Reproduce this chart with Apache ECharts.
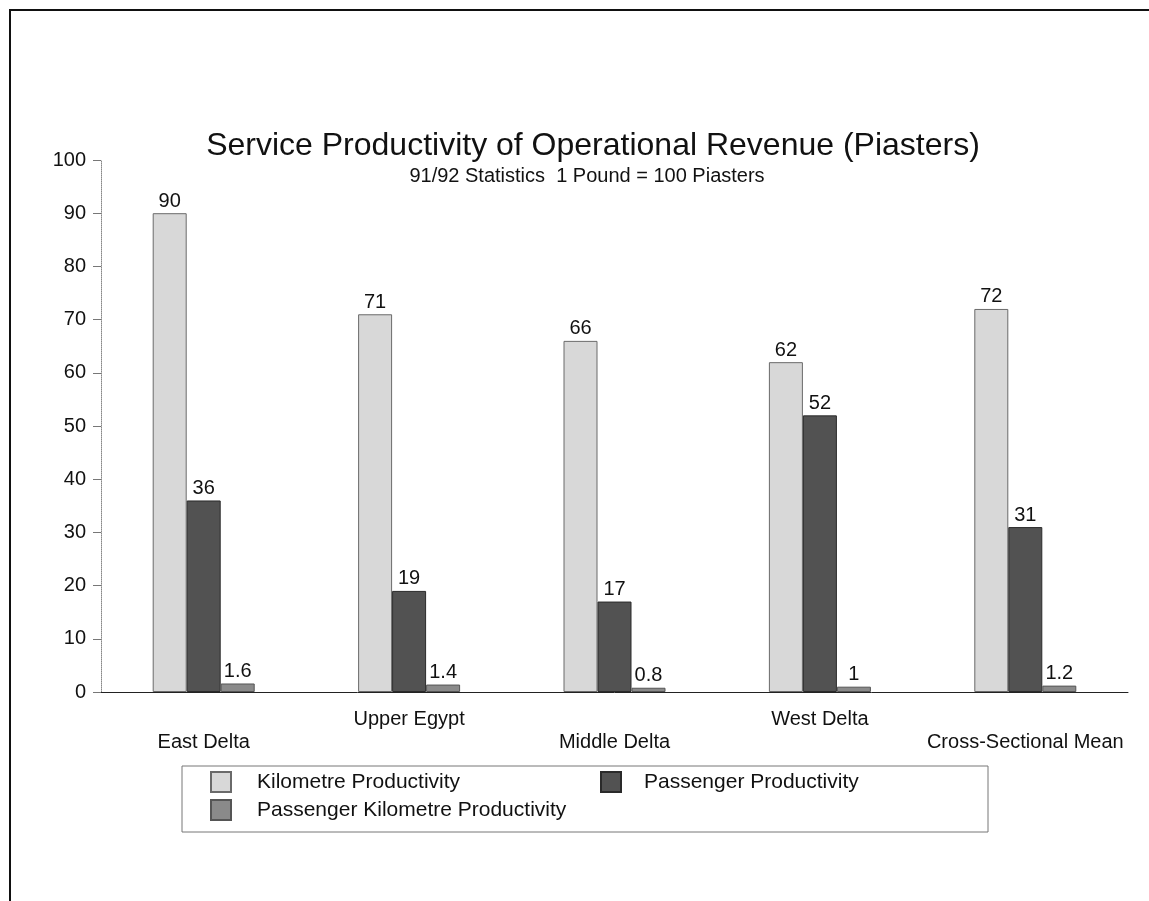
<!DOCTYPE html>
<html>
<head>
<meta charset="utf-8">
<script src="https://cdn.jsdelivr.net/npm/echarts@6/dist/echarts.min.js"></script>
<style>
  html, body { margin: 0; padding: 0; background: #fff; }
  #chart { width: 1149px; height: 901px; }
</style>
</head>
<body>
<div id="chart"></div>
<script>
// Regions served and the three productivity measures (piasters)
const regions = ['East Delta', 'Upper Egypt', 'Middle Delta', 'West Delta', 'Cross-Sectional Mean'];
const kilometreProductivity = [90, 71, 66, 62, 72];
const passengerProductivity = [36, 19, 17, 52, 31];
const passengerKmProductivity = [1.6, 1.4, 0.8, 1, 1.2];
const yTicks = { min: 0, max: 100, interval: 10 };

const FONT = '"Liberation Sans", Arial, Helvetica, sans-serif';

const chart = echarts.init(document.getElementById('chart'), null, { renderer: 'canvas' });

function barSeries(name, data, fill, border) {
  return {
    name: name,
    type: 'bar',
    data: data,
    barWidth: 34,
    barGap: '0%',
    itemStyle: { color: fill, borderColor: border, borderWidth: 1 },
    label: {
      show: true,
      position: 'top',
      distance: 2,
      color: '#111',
      fontFamily: FONT,
      fontSize: 20
    }
  };
}

function legendAt(name, left, top, padLeft) {
  return {
    data: [name],
    left: left,
    top: top,
    padding: 0,
    icon: 'rect',
    itemWidth: 20,
    itemHeight: 20,
    itemGap: 0,
    textStyle: { color: '#111', fontFamily: FONT, fontSize: 21, padding: [0, 0, 0, padLeft] }
  };
}

chart.setOption({
  animation: false,
  backgroundColor: '#fff',
  title: [
    {
      text: 'Service Productivity of Operational Revenue (Piasters)',
      left: 588,
      textAlign: 'center',
      top: 125,
      textStyle: { color: '#111', fontFamily: FONT, fontSize: 32, fontWeight: 'normal' }
    },
    {
      text: '91/92 Statistics  1 Pound = 100 Piasters',
      left: 582,
      textAlign: 'center',
      top: 161,
      textStyle: { color: '#111', fontFamily: FONT, fontSize: 20, fontWeight: 'normal' }
    }
  ],
  grid: { left: 101, right: 21, top: 160, bottom: 209, containLabel: false },
  legend: [
    legendAt('Kilometre Productivity', 210, 771, 21),
    legendAt('Passenger Productivity', 600, 771, 18),
    legendAt('Passenger Kilometre Productivity', 210, 799, 21)
  ],
  xAxis: {
    type: 'category',
    data: regions,
    axisLine: { lineStyle: { color: '#222', width: 1 } },
    axisTick: { alignWithLabel: true, length: 12, lineStyle: { color: '#999', type: 'dotted' } },
    axisLabel: {
      interval: 0,
      margin: 17,
      color: '#111',
      fontFamily: FONT,
      fontSize: 20,
      formatter: function (v, i) { return i % 2 === 0 ? '{lo|' + v + '}' : '{hi|' + v + '}'; },
      rich: {
        hi: { fontFamily: FONT, fontSize: 20, color: '#111', padding: [0, 0, 0, 0] },
        lo: { fontFamily: FONT, fontSize: 20, color: '#111', padding: [23, 0, 0, 0] }
      }
    }
  },
  yAxis: {
    type: 'value',
    min: yTicks.min,
    max: yTicks.max,
    interval: yTicks.interval,
    axisLine: { show: true, lineStyle: { color: '#888', type: 'dotted' } },
    axisTick: { show: true, length: 8, lineStyle: { color: '#777' } },
    splitLine: { show: false },
    axisLabel: { margin: 15, color: '#111', fontFamily: FONT, fontSize: 20 }
  },
  series: [
    barSeries('Kilometre Productivity', kilometreProductivity, '#d8d8d8', '#6a6a6a'),
    barSeries('Passenger Productivity', passengerProductivity, '#525252', '#2a2a2a'),
    barSeries('Passenger Kilometre Productivity', passengerKmProductivity, '#8a8a8a', '#555')
  ],
  graphic: [
    {
      type: 'rect',
      silent: true,
      shape: { x: 10, y: 10, width: 1200, height: 1000 },
      style: { fill: null, stroke: '#111', lineWidth: 2 }
    },
    {
      type: 'rect',
      silent: true,
      shape: { x: 182, y: 766, width: 806, height: 66 },
      style: { fill: null, stroke: '#777', lineWidth: 1 }
    }
  ]
});
</script>
</body>
</html>
